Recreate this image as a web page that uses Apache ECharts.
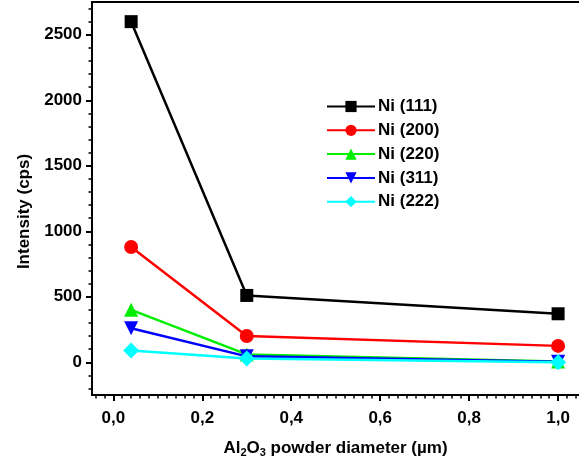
<!DOCTYPE html>
<html>
<head>
<meta charset="utf-8">
<script src="https://cdn.jsdelivr.net/npm/echarts@6/dist/echarts.min.js"></script>
<style>
  html, body { margin: 0; padding: 0; background: #fff; }
  #chart { width: 579px; height: 466px; }
</style>
</head>
<body>
<div id="chart"></div>
<script>
// powder diameter (µm)
const diameters = [0.04, 0.3, 1.0]

// intensities (cps)
const ni111 = [2600, 510, 370]
const ni200 = [880, 200, 125]
const ni220 = [400, 60, 5]
const ni311 = [260, 45, 3]
const ni222 = [90, 28, 0]

const seriesNames = ['Ni (111)', 'Ni (200)', 'Ni (220)', 'Ni (311)', 'Ni (222)']
const seriesColors = ['#000000', '#ff0000', '#00ee00', '#0000ff', '#00ffff']
const seriesSymbols = ['rect', 'circle', 'triangle', 'path://M0,0 L10,0 L5,10 Z', 'diamond']

// tick positions
const xMajorTicks = [0, 0.2, 0.4, 0.6, 0.8, 1.0]
const xMinorTicks = [-0.04, -0.02, 0.02, 0.04, 0.06, 0.08, 0.1, 0.12, 0.14, 0.16, 0.18, 0.22, 0.24, 0.26, 0.28, 0.3, 0.32, 0.34, 0.36, 0.38, 0.42, 0.44, 0.46, 0.48, 0.5, 0.52, 0.54, 0.56, 0.58, 0.62, 0.64, 0.66, 0.68, 0.7, 0.72, 0.74, 0.76, 0.78, 0.82, 0.84, 0.86, 0.88, 0.9, 0.92, 0.94, 0.96, 0.98, 1.02, 1.04]
const yMajorTicks = [0, 500, 1000, 1500, 2000, 2500]
const yMinorTicks = [-200, -100, 100, 200, 300, 400, 600, 700, 800, 900, 1100, 1200, 1300, 1400, 1600, 1700, 1800, 1900, 2100, 2200, 2300, 2400, 2600, 2700]

const allData = [ni111, ni200, ni220, ni311, ni222]

const chart = echarts.init(document.getElementById('chart'))

const font = 'Liberation Sans, Arial, sans-serif'
const fs = 17
const xMin = -0.048, xMax = 1.047
const yMin = -250, yMax = 2750

const getSeries = () => {
  return allData.map((vals, i) => ({
    name: seriesNames[i],
    type: 'line',
    data: vals.map((v, j) => [diameters[j], v]),
    symbol: seriesSymbols[i],
    symbolSize: i === 4 ? 16 : (i === 0 ? 13 : 14),
    showAllSymbol: true,
    lineStyle: { color: seriesColors[i], width: 2.5 },
    itemStyle: { color: seriesColors[i] },
    z: 3 + i
  }))
}

chart.setOption({
  animation: false,
  backgroundColor: '#fff',
  grid: { left: 92, top: 2, right: 0, bottom: 71 },
  legend: {
    left: 321, top: 93,
    orient: 'vertical',
    itemWidth: 48, itemHeight: 14, itemGap: 6.8,
    data: seriesNames,
    textStyle: { fontFamily: font, fontWeight: 'bold', fontSize: fs, color: '#000', padding: [0, 0, 0, -2] }
  },
  xAxis: [
    {
      type: 'value', min: xMin, max: xMax,
      splitLine: { show: false },
      axisLine: { onZero: false, lineStyle: { color: '#000', width: 2 } },
      axisTick: { customValues: xMajorTicks, length: 6, lineStyle: { width: 2, color: '#000' } },
      axisLabel: {
        customValues: xMajorTicks, margin: 15,
        fontFamily: font, fontWeight: 'bold', fontSize: fs, color: '#000',
        formatter: v => v.toFixed(1).replace('.', ',')
      },
      name: 'Al{sub|2}O{sub|3} powder diameter (µm)',
      nameLocation: 'middle', nameGap: 43,
      nameTextStyle: {
        fontFamily: font, fontWeight: 'bold', fontSize: fs, color: '#000',
        rich: { sub: { fontFamily: font, fontWeight: 'bold', fontSize: 11, color: '#000', verticalAlign: 'bottom', padding: [9, 0, 0, 0] } }
      }
    },
    {
      type: 'value', min: xMin, max: xMax, position: 'bottom',
      splitLine: { show: false },
      axisLine: { show: false, onZero: false },
      axisTick: { customValues: xMinorTicks, length: 3.5, lineStyle: { width: 1.5, color: '#000' } },
      axisLabel: { show: false }
    },
    {
      // top frame line
      type: 'value', min: xMin, max: xMax, position: 'top',
      splitLine: { show: false },
      axisLine: { onZero: false, lineStyle: { color: '#000', width: 2 } },
      axisTick: { show: false },
      axisLabel: { show: false }
    }
  ],
  yAxis: [
    {
      type: 'value', min: yMin, max: yMax,
      splitLine: { show: false },
      axisLine: { onZero: false, lineStyle: { color: '#000', width: 2 } },
      axisTick: { customValues: yMajorTicks, length: 6, lineStyle: { width: 2, color: '#000' } },
      axisLabel: {
        customValues: yMajorTicks, margin: 10,
        fontFamily: font, fontWeight: 'bold', fontSize: fs, color: '#000',
        formatter: v => String(v)
      },
      name: 'Intensity (cps)',
      nameLocation: 'middle', nameGap: 58,
      nameTextStyle: { fontFamily: font, fontWeight: 'bold', fontSize: fs, color: '#000', padding: [0, 26, 0, 0] }
    },
    {
      type: 'value', min: yMin, max: yMax, position: 'left',
      splitLine: { show: false },
      axisLine: { show: false, onZero: false },
      axisTick: { customValues: yMinorTicks, length: 3.5, lineStyle: { width: 1.5, color: '#000' } },
      axisLabel: { show: false }
    }
  ],
  series: getSeries()
})
</script>
</body>
</html>
